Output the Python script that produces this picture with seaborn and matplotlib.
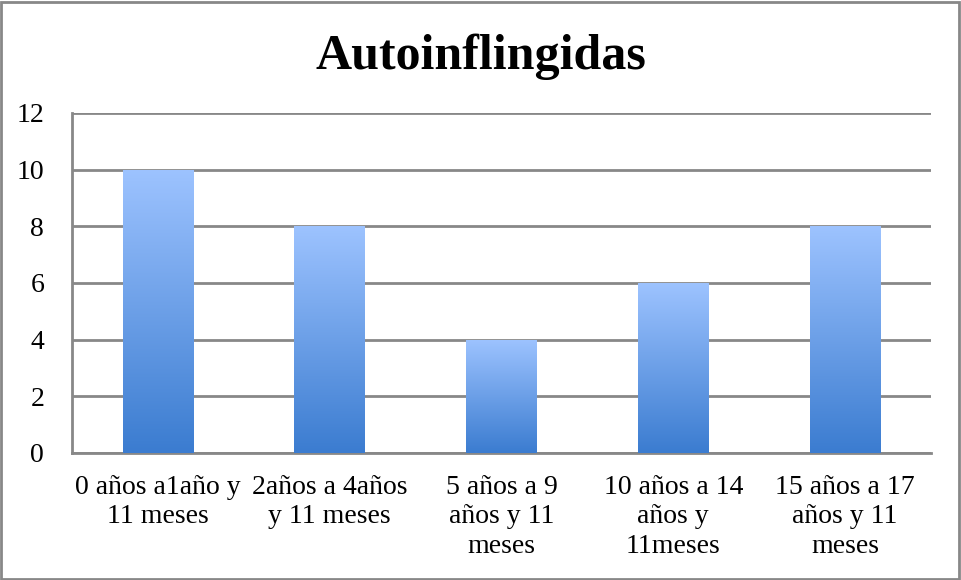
import numpy as np
import matplotlib
matplotlib.use("Agg")
import matplotlib.pyplot as plt
import seaborn as sns
from matplotlib.colors import LinearSegmentedColormap

# Data
categories = [
    "0 años a1año y\n11 meses",
    "2años a 4años\ny 11 meses",
    "5 años a 9\naños y 11\nmeses",
    "10 años a 14\naños y\n11meses",
    "15 años a 17\naños y 11\nmeses",
]
values = [10, 8, 4, 6, 8]

sns.set_style("white")
plt.rcParams['font.family'] = ['Liberation Serif', 'DejaVu Serif']
plt.rcParams['text.color'] = 'black'
plt.rcParams['xtick.labelcolor'] = 'black'
plt.rcParams['ytick.labelcolor'] = 'black'

grid_col = "#888888"

fig = plt.figure(figsize=(9.61, 5.8), dpi=100)
ax = fig.add_axes([72 / 961, 1 - 453 / 580, (931 - 72) / 961, (453 - 113) / 580])

sns.barplot(x=categories, y=values, ax=ax, color="#6a9ee8", width=0.41, zorder=3)

# vertical gradient fill for each bar
cmap = LinearSegmentedColormap.from_list("blue_grad", ["#3b7cd0", "#9dc3ff"])
grad = np.linspace(0, 1, 256).reshape(-1, 1)
for patch in ax.patches:
    x0, y0 = patch.get_x(), patch.get_y()
    w, h = patch.get_width(), patch.get_height()
    im = ax.imshow(grad, extent=[x0, x0 + w, y0, y0 + h], origin="lower",
                   cmap=cmap, aspect="auto", zorder=4)
    im.set_clip_path(patch)
    patch.set_facecolor("none")
    patch.set_edgecolor("none")

ax.set_xlim(-0.5, 4.5)
ax.set_ylim(0, 12)
ax.set_yticks(range(0, 13, 2))
ax.yaxis.grid(True, color=grid_col, linewidth=2, zorder=0)
ax.set_axisbelow(True)

for s in ["top", "right"]:
    ax.spines[s].set_visible(False)
for s in ["left", "bottom"]:
    ax.spines[s].set_color(grid_col)
    ax.spines[s].set_linewidth(2)

# x ticks at category boundaries, labels centred on bars
ax.set_xticks(np.arange(-0.5, 5, 1))
ax.set_xticklabels([])
ax.set_xticks(range(len(categories)), minor=True)
ax.set_xticklabels(categories, minor=True, fontsize=20, linespacing=1.22, color="black")
ax.tick_params(axis="x", which="minor", length=0, pad=16)
ax.tick_params(axis="x", which="major", length=6, width=2, color=grid_col, direction="out")
ax.tick_params(axis="y", length=6, width=2, color=grid_col, direction="out",
               labelsize=20, pad=14, labelcolor="black")

fig.text(0.5, 1 - 57 / 580, "Autoinflingidas", ha="center", va="center",
         fontsize=36, fontweight="bold", color="black")

# outer chart border
fig.patches.append(plt.Rectangle((0.001, 0.002), 0.997, 0.995, transform=fig.transFigure,
                                 fill=False, edgecolor=grid_col, linewidth=2))

fig.savefig("out.png", dpi=100)
